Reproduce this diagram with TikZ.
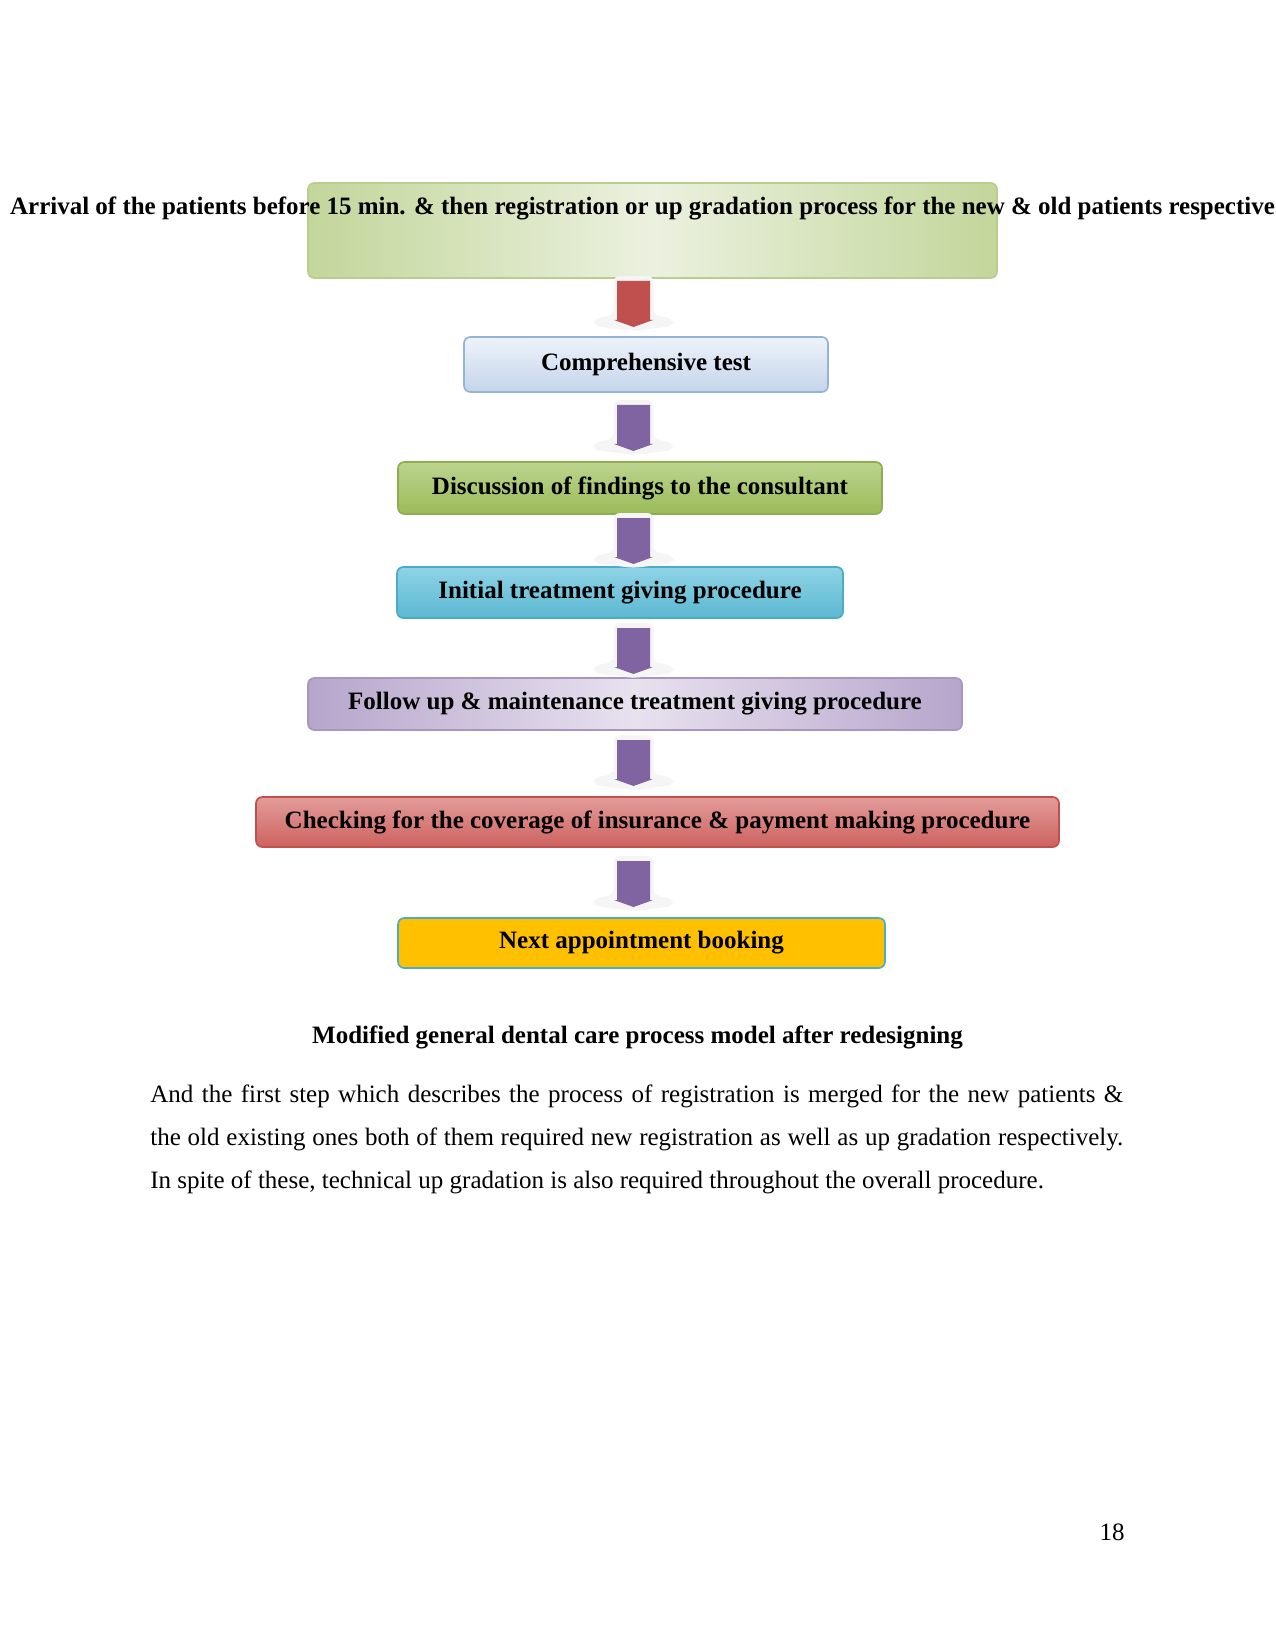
\documentclass[tikz,border=0pt]{standalone}
\usepackage{fontspec}
\setmainfont{Liberation Serif}
\usepackage{graphicx}
\definecolor{grnedge}{HTML}{C3D69B}
\definecolor{grnmid}{HTML}{EBF1DF}
\definecolor{grnline}{HTML}{B8CE8F}
\definecolor{bluetop}{HTML}{EEF3FA}
\definecolor{bluebot}{HTML}{C4D4EA}
\definecolor{blueline}{HTML}{95B3D7}
\definecolor{disctop}{HTML}{BCD48E}
\definecolor{discbot}{HTML}{9BBB59}
\definecolor{discline}{HTML}{8DAE4C}
\definecolor{inittop}{HTML}{8FD3E6}
\definecolor{initbot}{HTML}{5BB8D1}
\definecolor{initline}{HTML}{4BACC6}
\definecolor{purpedge}{HTML}{B6A5CB}
\definecolor{purpmid}{HTML}{E8E2EF}
\definecolor{purpline}{HTML}{A896C2}
\definecolor{redtop}{HTML}{E39C9A}
\definecolor{redbot}{HTML}{CD625F}
\definecolor{redline}{HTML}{C0504D}
\definecolor{nextfill}{HTML}{FFC000}
\definecolor{arrred}{HTML}{C0504D}
\definecolor{arrpurp}{HTML}{8064A2}
\definecolor{ghost}{HTML}{F5F5F5}
\tikzset{
  box/.style={rounded corners=3pt, line width=0.8pt, inner sep=0pt},
  boxtext/.style={font=\bfseries\fontsize{12}{14}\selectfont},
  pics/downarrow/.style={code={
    \fill[ghost, rounded corners=3pt] (-20,-5) -- (20,-5) -- (20,34) -- (40,38) -- (40,45) -- (0,50) -- (-40,45) -- (-40,38) -- (-20,34) -- cycle;
    \fill[#1] (-16.5,0) -- (16.5,0) -- (16.5,39) -- (19.5,39) -- (0,46) -- (-19.5,39) -- (-16.5,39) -- cycle;
  }}
}
\begin{document}
\begin{tikzpicture}[x=0.48pt,y=-0.48pt]
\useasboundingbox (0,0) rectangle (1275,1650);
% boxes
\node[box, draw=grnline, left color=grnedge, right color=grnedge, middle color=grnmid,
  minimum width={689*0.48pt}, minimum height={95*0.48pt}] (b1) at (652.5,230.5) {};
\node[box, boxtext, draw=blueline, top color=bluetop, bottom color=bluebot,
  minimum width={364*0.48pt}, minimum height={55*0.48pt}] (b2) at (646,364.5) {Comprehensive test};
\node[box, boxtext, draw=discline, top color=disctop, bottom color=discbot,
  minimum width={484*0.48pt}, minimum height={52*0.48pt}] (b3) at (640,488) {Discussion of findings to the consultant};
\node[box, boxtext, draw=initline, top color=inittop, bottom color=initbot,
  minimum width={446*0.48pt}, minimum height={51*0.48pt}] (b4) at (620,592.5) {Initial treatment giving procedure};
\node[box, boxtext, draw=purpline, left color=purpedge, right color=purpedge, middle color=purpmid,
  minimum width={654*0.48pt}, minimum height={52*0.48pt}] (b5) at (635,704) {Follow up \& maintenance treatment giving procedure};
\node[box, boxtext, draw=redline, top color=redtop, bottom color=redbot,
  minimum width={803*0.48pt}, minimum height={50*0.48pt}] (b6) at (657.5,822) {Checking for the coverage of insurance \& payment making procedure};
\node[box, boxtext, draw=initline, fill=nextfill,
  minimum width={487*0.48pt}, minimum height={50*0.48pt}] (b7) at (641.5,943) {Next appointment booking};
% title over first box
\node[boxtext, anchor=base, inner sep=0pt] (t1) at (642.5,215)
  {\resizebox{607pt}{\height}{Arrival of the patients before 15 min. \& then registration or up gradation process for the new \& old patients respective}};
% arrows
\pic at (633.5,281) {downarrow=arrred};
\pic at (633.5,405) {downarrow=arrpurp};
\pic at (633.5,518) {downarrow=arrpurp};
\pic at (633.5,628) {downarrow=arrpurp};
\pic at (633.5,740) {downarrow=arrpurp};
\pic at (633.5,861) {downarrow=arrpurp};
% caption and text
\node[boxtext, anchor=base, inner sep=0pt] (cap) at (637.5,1043) {Modified general dental care process model after redesigning};
\node[anchor=base west, inner sep=0pt, font=\fontsize{12}{14}\selectfont] (p1) at (150,1102)
  {\makebox[467pt][s]{And the first step which describes the process of registration is merged for the new patients \&}};
\node[anchor=base west, inner sep=0pt, font=\fontsize{12}{14}\selectfont] (p2) at (150,1145)
  {\makebox[467pt][s]{the old existing ones both of them required new registration as well as up gradation respectively.}};
\node[anchor=base west, inner sep=0pt, font=\fontsize{12}{14}\selectfont] (p3) at (150,1188)
  {In spite of these, technical up gradation is also required throughout the overall procedure.};
\node[anchor=base east, inner sep=0pt, font=\fontsize{12}{14}\selectfont] (pg) at (1125,1540) {18};
\end{tikzpicture}
\end{document}
